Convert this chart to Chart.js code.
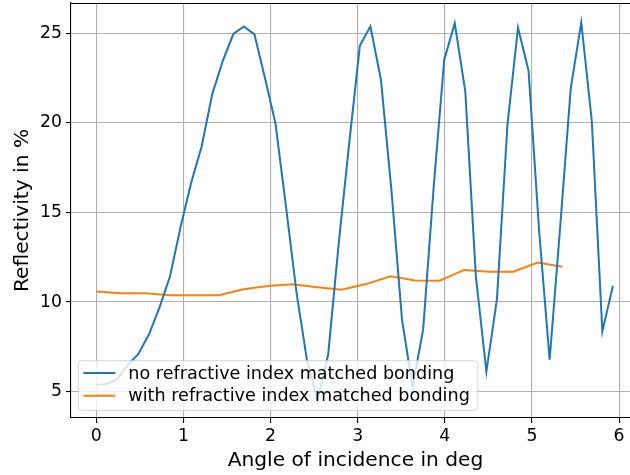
<!DOCTYPE html>
<html>
<head>
<meta charset="utf-8">
<script src="https://cdn.jsdelivr.net/npm/chart.js@4.4.0/dist/chart.umd.min.js"></script>
<style>
html, body { margin: 0; padding: 0; background: #fff; overflow: hidden; }
#wrap { width: 640px; height: 475px; }
</style>
</head>
<body>
<div id="wrap"><canvas id="reflChart" width="640" height="475"></canvas></div>
<script>
// angle of incidence (deg) and reflectivity (%)
var angleNoMatch = [0, 0.121, 0.242, 0.363, 0.484, 0.605, 0.726, 0.847, 0.968, 1.089,
    1.21, 1.331, 1.452, 1.573, 1.694, 1.815, 1.936, 2.057, 2.178, 2.299,
    2.42, 2.541, 2.662, 2.783, 2.904, 3.025, 3.146, 3.267, 3.388, 3.509,
    3.63, 3.751, 3.872, 3.993, 4.114, 4.235, 4.356, 4.477, 4.598, 4.719,
    4.84, 4.961, 5.082, 5.203, 5.324, 5.445, 5.566, 5.687, 5.808, 5.929];
var reflNoMatch = [5.38, 5.42, 5.7, 6.5, 7.1, 8.2, 9.7, 11.45, 14.2, 16.65,
    18.69, 21.6, 23.45, 24.95, 25.37, 24.93, 22.5, 19.95, 15.3, 10.5,
    6.7, 4.5, 7.1, 13.3, 18.9, 24.3, 25.38, 22.4, 16.2, 9.0,
    5.27, 8.45, 16.4, 23.5, 25.55, 21.75, 11.45, 6.12, 10.15, 19.9,
    25.3, 22.9, 14.0, 6.78, 14.2, 21.9, 25.6, 20.1, 8.36, 10.9];

var angleMatch = [0, 0.282, 0.563, 0.845, 1.126, 1.408, 1.689, 1.971, 2.252, 2.534,
    2.815, 3.097, 3.378, 3.66, 3.941, 4.223, 4.504, 4.786, 5.067, 5.349];
var reflMatch = [10.58, 10.49, 10.49, 10.38, 10.38, 10.38, 10.71, 10.89, 10.99, 10.82,
    10.69, 11.0, 11.43, 11.2, 11.19, 11.79, 11.69, 11.69, 12.2, 11.97];

var xTicks = [0, 1, 2, 3, 4, 5, 6];
var yTicks = [5, 10, 15, 20, 25];

var labelNoMatch = 'no refractive index matched bonding';
var labelMatch = 'with refractive index matched bonding';

function toPoints(xs, ys) {
    return xs.map(function(x, i) { return {x: x, y: ys[i]}; });
}

var tickFont = {family: 'DejaVu Sans', size: 17.3};
var titleFont = {family: 'DejaVu Sans', size: 20.2};

// top spine (right one falls outside the window like in the picture)
var frame = {
    id: 'frame',
    afterDatasetsDraw: function(chart) {
        var ctx = chart.ctx, a = chart.chartArea;
        ctx.save();
        ctx.strokeStyle = '#000';
        ctx.lineWidth = 1.1;
        ctx.beginPath();
        ctx.moveTo(a.left, a.top + 0.5);
        ctx.lineTo(a.right, a.top + 0.5);
        ctx.lineTo(a.right - 0.5, a.bottom);
        ctx.stroke();
        ctx.restore();
    }
};

// matplotlib-like legend in the lower left corner of the axes
var insideLegend = {
    id: 'insideLegend',
    afterDraw: function(chart) {
        var ctx = chart.ctx, a = chart.chartArea;
        var sets = chart.data.datasets;
        ctx.save();
        ctx.font = '17.6px "DejaVu Sans"';
        var tw = 0;
        sets.forEach(function(d) { tw = Math.max(tw, ctx.measureText(d.label).width); });
        var h = 49.7;
        var x0 = a.left + 7.3;
        var y0 = a.bottom - 7.6 - h;
        var w = 58 + tw;
        var r = 3.5;
        ctx.beginPath();
        ctx.moveTo(x0 + r, y0);
        ctx.arcTo(x0 + w, y0, x0 + w, y0 + h, r);
        ctx.arcTo(x0 + w, y0 + h, x0, y0 + h, r);
        ctx.arcTo(x0, y0 + h, x0, y0, r);
        ctx.arcTo(x0, y0, x0 + w, y0, r);
        ctx.closePath();
        ctx.fillStyle = 'rgba(255,255,255,0.8)';
        ctx.fill();
        ctx.strokeStyle = 'rgba(204,204,204,0.8)';
        ctx.lineWidth = 1;
        ctx.stroke();
        ctx.textBaseline = 'middle';
        ctx.fillStyle = '#000';
        sets.forEach(function(d, i) {
            var cy = y0 + 12.3 + i * 22.7;
            ctx.strokeStyle = d.borderColor;
            ctx.lineWidth = 2;
            ctx.beginPath();
            ctx.moveTo(x0 + 5, cy);
            ctx.lineTo(x0 + 37, cy);
            ctx.stroke();
            ctx.fillText(d.label, x0 + 50, cy + 1);
        });
        ctx.restore();
    }
};

var ctx = document.getElementById('reflChart');
var reflChart = new Chart(ctx, {
    type: 'line',
    data: {
        datasets: [
            {
                label: labelNoMatch,
                data: toPoints(angleNoMatch, reflNoMatch),
                borderColor: '#1f77b4',
                backgroundColor: '#1f77b4',
                borderWidth: 2,
                pointRadius: 0,
                tension: 0,
                fill: false
            },
            {
                label: labelMatch,
                data: toPoints(angleMatch, reflMatch),
                borderColor: '#ff7f0e',
                backgroundColor: '#ff7f0e',
                borderWidth: 2,
                pointRadius: 0,
                tension: 0,
                fill: false
            }
        ]
    },
    options: {
        responsive: false,
        animation: false,
        devicePixelRatio: 1,
        layout: {padding: {top: 3, right: 0, left: 0, bottom: 0}},
        plugins: {legend: {display: false}, tooltip: {enabled: false}},
        scales: {
            x: {
                type: 'linear',
                min: -0.29,
                max: 6.24,
                afterBuildTicks: function(axis) {
                    axis.ticks = xTicks.map(function(v) { return {value: v}; });
                },
                afterFit: function(axis) {
                    axis.height = 57;
                    axis.paddingLeft = 0;
                    axis.paddingRight = 0;
                },
                grid: {color: '#b0b0b0', lineWidth: 1.1, tickLength: 5, tickColor: '#000', tickWidth: 1.1},
                border: {color: '#000', width: 1.1},
                ticks: {color: '#000', font: tickFont, padding: 3, maxRotation: 0},
                title: {display: true, text: 'Angle of incidence in deg', color: '#000', font: titleFont, padding: {top: 0, bottom: 2}}
            },
            y: {
                min: 3.53,
                max: 26.68,
                afterBuildTicks: function(axis) {
                    axis.ticks = yTicks.map(function(v) { return {value: v}; });
                },
                afterFit: function(axis) {
                    axis.width = 71;
                    axis.paddingTop = 0;
                    axis.paddingBottom = 0;
                },
                grid: {color: '#b0b0b0', lineWidth: 1.1, tickLength: 5, tickColor: '#000', tickWidth: 1.1},
                border: {color: '#000', width: 1.1},
                ticks: {color: '#000', font: tickFont, padding: 4},
                title: {display: true, text: 'Reflectivity in %', color: '#000', font: titleFont, padding: {top: 11, bottom: 0}}
            }
        }
    },
    plugins: [frame, insideLegend]
});
</script>
</body>
</html>
